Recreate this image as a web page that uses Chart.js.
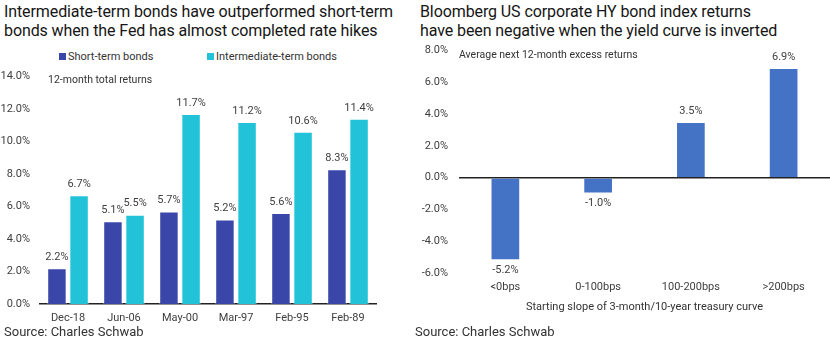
<!DOCTYPE html>
<html>
<head>
<meta charset="utf-8">
<script src="https://cdn.jsdelivr.net/npm/chart.js@4.4.1/dist/chart.umd.min.js"></script>
<style>
  html, body { margin: 0; padding: 0; background: #fff; }
  body { width: 830px; height: 342px; position: relative; overflow: hidden; font-family: Roboto, sans-serif; color: #222; }
  .title { position: absolute; font-size: 16px; line-height: 18.5px; letter-spacing: -0.1px; color: #151515; white-space: nowrap; }
  .source { position: absolute; font-size: 13px; color: #333; top: 324px; }
  .note { position: absolute; font-size: 10.5px; color: #333; white-space: nowrap; }
  .legend { position: absolute; top: 50px; font-size: 11px; color: #333; white-space: nowrap; }
  .legend span.sw { display: inline-block; width: 7px; height: 7px; margin-right: 2px; vertical-align: 0px; }
  canvas { position: absolute; }
</style>
</head>
<body>
<div class="title" style="left:4px;top:3px">Intermediate-term bonds have outperformed short-term<br>bonds when the Fed has almost completed rate hikes</div>
<div class="title" style="left:420px;top:3px">Bloomberg US corporate HY bond index returns<br>have been negative when the yield curve is inverted</div>

<div id="legendLeft"></div>

<canvas id="leftChart" style="left:0;top:60px" width="392" height="270"></canvas>
<canvas id="rightChart" style="left:415px;top:33px" width="415" height="287"></canvas>

<div class="note" style="left:48px;top:73px">12-month total returns</div>
<div class="note" style="left:459px;top:48px">Average next 12-month excess returns</div>

<div class="source" style="left:4px">Source: Charles Schwab</div>
<div class="source" style="left:415px">Source: Charles Schwab</div>

<script>
// Fed hike cycles
const periodos = ['Dec-18', 'Jun-06', 'May-00', 'Mar-97', 'Feb-95', 'Feb-89']
const curtoPrazo = [2.2, 5.1, 5.7, 5.2, 5.6, 8.3]
const medioPrazo = [6.7, 5.5, 11.7, 11.2, 10.6, 11.4]

// HY excess returns by curve slope
const faixasCurva = ['<0bps', '0-100bps', '100-200bps', '>200bps']
const retornosHY = [-5.2, -1.0, 3.5, 6.9]

const corCurto = '#3a46a8'
const corMedio = '#22c3d8'
const corHY = '#4472c4'
const corTexto = '#404040'

Chart.defaults.font.family = 'Roboto, sans-serif'
Chart.defaults.font.size = 11
Chart.defaults.color = corTexto
Chart.defaults.animation = false

const pct = v => v.toFixed(1) + '%'

// Rótulos de valor acima/abaixo das barras
const rotulosValor = {
  id: 'rotulosValor',
  afterDatasetsDraw(chart) {
    const ctx = chart.ctx
    ctx.save()
    ctx.font = '11px Roboto, sans-serif'
    ctx.fillStyle = corTexto
    ctx.textAlign = 'center'
    ctx.textBaseline = 'middle'
    chart.data.datasets.forEach((ds, i) => {
      chart.getDatasetMeta(i).data.forEach((bar, j) => {
        const v = ds.data[j]
        const y = v >= 0 ? bar.y - 11 : bar.y + 10
        ctx.fillText(pct(v), bar.x, y)
      })
    })
    ctx.restore()
  }
}

const leftChart = new Chart(document.getElementById('leftChart'), {
  type: 'bar',
  data: {
    labels: periodos,
    datasets: [
      { label: 'Short-term bonds', data: curtoPrazo, backgroundColor: corCurto, borderColor: 'rgba(255,255,255,0.5)', borderWidth: 1 },
      { label: 'Intermediate-term bonds', data: medioPrazo, backgroundColor: corMedio, borderColor: 'rgba(255,255,255,0.5)', borderWidth: 1 }
    ]
  },
  options: {
    responsive: false,
    categoryPercentage: 0.79,
    barPercentage: 0.88,
    layout: { padding: { top: 15, right: 16, left: 0, bottom: 0 } },
    plugins: { legend: { display: false }, tooltip: { enabled: false } },
    scales: {
      x: {
        grid: { display: false, drawTicks: false },
        border: { display: true, color: '#222', width: 1.5 },
        ticks: { padding: 8 },
        afterFit: s => { s.height = 26 }
      },
      y: {
        min: 0, max: 14,
        ticks: { stepSize: 2, padding: 10, callback: v => pct(v) },
        grid: { display: false, drawTicks: false },
        border: { display: false },
        afterFit: s => { s.width = 40 }
      }
    }
  },
  plugins: [rotulosValor]
})

// Legenda em HTML montada a partir dos datasets
const legenda = document.getElementById('legendLeft')
const posLegenda = [59, 207]
leftChart.data.datasets.forEach((ds, i) => {
  const item = document.createElement('div')
  item.className = 'legend'
  item.style.left = posLegenda[i] + 'px'
  item.innerHTML = `<span class="sw" style="background:${ds.backgroundColor}"></span>${ds.label}`
  legenda.appendChild(item)
})

new Chart(document.getElementById('rightChart'), {
  type: 'bar',
  data: {
    labels: faixasCurva,
    datasets: [
      { data: retornosHY, backgroundColor: corHY, borderColor: 'rgba(255,255,255,0.5)', borderWidth: 1 }
    ]
  },
  options: {
    responsive: false,
    categoryPercentage: 0.8,
    barPercentage: 0.4,
    layout: { padding: { top: 3, right: 0, left: 0, bottom: 0 } },
    plugins: { legend: { display: false }, tooltip: { enabled: false } },
    scales: {
      x: {
        grid: { display: false, drawTicks: false },
        border: { display: false },
        ticks: { padding: 8 },
        title: { display: true, text: 'Starting slope of 3-month/10-year treasury curve', color: '#333', font: { size: 11 }, padding: { top: 4, bottom: 6 } },
        afterFit: s => { s.height = 47 }
      },
      y: {
        min: -6, max: 8,
        ticks: { stepSize: 2, padding: 11, callback: v => pct(v) },
        grid: {
          drawTicks: false,
          color: c => c.tick && c.tick.value === 0 ? '#222' : 'transparent',
          lineWidth: c => c.tick && c.tick.value === 0 ? 1.5 : 0
        },
        border: { display: false },
        afterFit: s => { s.width = 44 }
      }
    }
  },
  plugins: [rotulosValor]
})
</script>
</body>
</html>
